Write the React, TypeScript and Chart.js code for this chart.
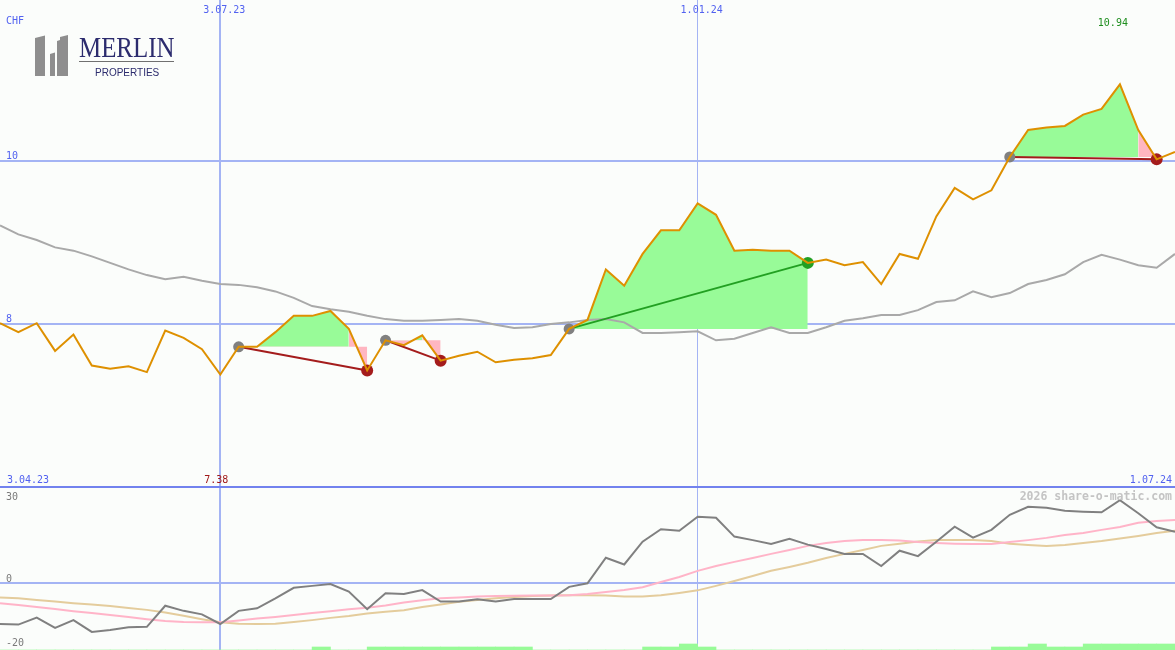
import React, { useEffect, useRef } from "react";
import { Chart, registerables } from "chart.js";

Chart.register(...registerables);

const W = 1175;
const H = 650;

// ---------- data ----------
const currencyLabel = "CHF";
const dateTickWeeks = [12, 38];
const dateTickLabels = ["3.07.23", "1.01.24"];
const rangeStartLabel = "3.04.23";
const rangeEndLabel = "1.07.24";
const priceGridValues = [8, 10];
const oscGridValues = [0, 30];
const oscLabelValues = [30, 0, -20];
const watermark = "2026 share-o-matic.com";

// weekly closing price (CHF), week 0 .. week 64
const price = [
  8.01, 7.9, 8.01, 7.67, 7.87, 7.49, 7.45, 7.48, 7.41, 7.92,
  7.83, 7.69, 7.38, 7.72, 7.72, 7.9, 8.1, 8.1, 8.16, 7.94,
  7.43, 7.8, 7.74, 7.86, 7.55, 7.61, 7.66, 7.53, 7.56, 7.58,
  7.62, 7.94, 8.05, 8.67, 8.47, 8.86, 9.15, 9.15, 9.48, 9.34,
  8.9, 8.91, 8.9, 8.9, 8.75, 8.79, 8.72, 8.76, 8.49, 8.86,
  8.8, 9.32, 9.67, 9.53, 9.64, 10.05, 10.38, 10.41, 10.43, 10.57,
  10.64, 10.94, 10.38, 10.02, 10.11,
];

// long moving average (grey line, price panel)
const movingAverage = [
  9.21, 9.1, 9.03, 8.94, 8.9, 8.83, 8.75, 8.67, 8.6, 8.55,
  8.58, 8.53, 8.49, 8.48, 8.45, 8.4, 8.32, 8.22, 8.18, 8.15,
  8.1, 8.06, 8.04, 8.04, 8.05, 8.06, 8.04, 7.99, 7.95, 7.96,
  8.0, 8.02, 8.05, 8.06, 8.02, 7.89, 7.89, 7.9, 7.91, 7.8,
  7.82, 7.89, 7.96, 7.89, 7.89, 7.96, 8.04, 8.07, 8.11, 8.11,
  8.17, 8.27, 8.29, 8.4, 8.33, 8.38, 8.49, 8.54, 8.61, 8.76,
  8.85, 8.79, 8.72, 8.69, 8.86,
];

// oscillator panel
const momentum = [
  -12.8, -13.0, -10.8, -14.0, -11.6, -15.3, -14.7, -13.8, -13.7, -7.1,
  -8.7, -9.8, -12.8, -8.7, -7.9, -4.8, -1.5, -0.9, -0.3, -2.7,
  -8.2, -3.2, -3.4, -2.2, -5.8, -5.8, -5.1, -5.8, -5.0, -5.0,
  -5.0, -1.2, -0.1, 7.9, 5.8, 12.9, 16.8, 16.3, 20.7, 20.4,
  14.5, 13.4, 12.2, 13.8, 12.0, 10.6, 9.1, 9.1, 5.3, 10.1,
  8.4, 12.9, 17.6, 14.2, 16.6, 21.3, 23.8, 23.5, 22.6, 22.3,
  22.1, 25.9, 21.8, 17.4, 16.0,
];
const momentumFast = [
  -6.3, -6.9, -7.5, -8.1, -8.8, -9.4, -10.0, -10.6, -11.3, -11.9,
  -12.2, -12.3, -12.3, -11.7, -11.1, -10.6, -10.0, -9.4, -8.8, -8.2,
  -7.7, -7.0, -6.1, -5.4, -4.8, -4.5, -4.2, -4.1, -4.0, -3.9,
  -3.9, -3.8, -3.4, -2.8, -2.2, -1.3, 0.3, 1.9, 3.8, 5.3,
  6.6, 7.8, 9.1, 10.3, 11.6, 12.5, 13.1, 13.4, 13.4, 13.3,
  12.8, 12.5, 12.3, 12.2, 12.2, 12.8, 13.4, 14.1, 15.0, 15.6,
  16.6, 17.5, 18.8, 19.4, 19.7,
];
const momentumSlow = [
  -4.5, -4.8, -5.3, -5.8, -6.3, -6.7, -7.2, -7.8, -8.4, -9.2,
  -10.2, -11.3, -12.3, -12.7, -12.8, -12.7, -12.2, -11.6, -10.9, -10.3,
  -9.5, -9.0, -8.5, -7.5, -6.7, -5.9, -5.3, -4.8, -4.4, -4.1,
  -3.9, -3.8, -3.8, -3.9, -4.2, -4.2, -3.8, -3.1, -2.3, -0.9,
  0.6, 2.2, 3.8, 5.0, 6.3, 7.8, 9.1, 10.3, 11.6, 12.3,
  13.0, 13.4, 13.4, 13.4, 13.1, 12.3, 11.9, 11.6, 11.9, 12.5,
  13.1, 13.9, 14.7, 15.6, 16.3,
];

// signal strength bars per week interval (0..63)
const signalBars = [
  0, 0, 0, 0, 0, 0, 0, 0, 0, 0,
  0, 0, 0, 0, 0, 0, 0, 1, 0, 0,
  1, 1, 1, 1, 1, 1, 1, 1, 1, 0,
  0, 0, 0, 0, 0, 1, 1, 2, 1, 0,
  0, 0, 0, 0, 0, 0, 0, 0, 0, 0,
  0, 0, 0, 0, 1, 1, 2, 1, 1, 2,
  2, 2, 2, 2,
];

// trades (week index of entry and exit)
const tradeEntryWeek = [13, 21, 31, 55];
const tradeExitWeek = [20, 24, 44, 63];

const lowWeek = 12;
const highWeek = 61;

// ---------- styles ----------
const BG = "#fbfdfb";
const GRID = "#a4b4f4";
const SEPARATOR = "#7282ee";
const BLUE_TEXT = "#5262f0";
const GREEN_FILL = "#98fb98";
const PINK_FILL = "#ffb6c1";
const ORANGE = "#de9000";
const MA_GREY = "#a9a9a9";
const MOM_GREY = "#808080";
const PINK_LINE = "#ffb4c8";
const TAN_LINE = "#e4cc9c";
const LOSS = "#a41c1c";
const WIN = "#22a022";
const ENTRY_DOT = "#808080";

const range = (a: number, b: number) => {
  const r: number[] = [];
  for (let i = a; i <= b; i++) r.push(i);
  return r;
};

function buildDatasets() {
  const ds: any[] = [];
  // trade fills
  tradeEntryWeek.forEach((e, t) => {
    const x = tradeExitWeek[t];
    const level = price[e];
    const win = price[x] > level;
    const parts: [number, number, string][] = win
      ? [[e, x, GREEN_FILL]]
      : [
          [e, x - 1, GREEN_FILL],
          [x - 1, x, PINK_FILL],
        ];
    parts.forEach(([a, b, aboveColor]) => {
      const levelIdx = ds.length;
      ds.push({
        type: "line",
        data: range(a, b).map((i) => ({ x: i, y: level })),
        borderWidth: 0,
        borderColor: "rgba(0,0,0,0)",
        pointRadius: 0,
        fill: false,
        order: 30,
        yAxisID: "y",
      });
      ds.push({
        type: "line",
        data: range(a, b).map((i) => ({ x: i, y: price[i] })),
        borderWidth: 0,
        borderColor: "rgba(0,0,0,0)",
        pointRadius: 0,
        fill: { target: levelIdx, above: aboveColor, below: PINK_FILL },
        order: 29,
        yAxisID: "y",
      });
    });
  });

  // moving average
  ds.push({
    type: "line",
    data: movingAverage.map((v, i) => ({ x: i, y: v })),
    borderColor: MA_GREY,
    borderWidth: 2,
    pointRadius: 0,
    fill: false,
    order: 20,
    yAxisID: "y",
  });

  // signal bars
  ds.push({
    type: "bar",
    data: signalBars.map((v, i) => ({ x: i + 0.5, y: v })),
    backgroundColor: GREEN_FILL,
    borderWidth: 0,
    barPercentage: 1,
    categoryPercentage: 1,
    order: 19,
    yAxisID: "yBars",
  });

  // oscillator lines
  ds.push({
    type: "line",
    data: momentumSlow.map((v, i) => ({ x: i, y: v })),
    borderColor: TAN_LINE,
    borderWidth: 2,
    pointRadius: 0,
    fill: false,
    order: 18,
    yAxisID: "y2",
  });
  ds.push({
    type: "line",
    data: momentumFast.map((v, i) => ({ x: i, y: v })),
    borderColor: PINK_LINE,
    borderWidth: 2,
    pointRadius: 0,
    fill: false,
    order: 17,
    yAxisID: "y2",
  });
  ds.push({
    type: "line",
    data: momentum.map((v, i) => ({ x: i, y: v })),
    borderColor: MOM_GREY,
    borderWidth: 2,
    pointRadius: 0,
    fill: false,
    order: 16,
    yAxisID: "y2",
  });

  // trade lines with entry / exit dots
  tradeEntryWeek.forEach((e, t) => {
    const x = tradeExitWeek[t];
    const win = price[x] > price[e];
    const c = win ? WIN : LOSS;
    ds.push({
      type: "line",
      data: [
        { x: e, y: price[e] },
        { x, y: price[x] },
      ],
      borderColor: c,
      borderWidth: 2,
      pointRadius: [5.5, 6],
      pointBackgroundColor: [ENTRY_DOT, c],
      pointBorderWidth: 0,
      fill: false,
      order: 6,
      yAxisID: "y",
    });
  });

  // price line
  ds.push({
    type: "line",
    data: price.map((v, i) => ({ x: i, y: v })),
    borderColor: ORANGE,
    borderWidth: 2,
    pointRadius: 0,
    fill: false,
    order: 2,
    yAxisID: "y",
  });
  return ds;
}

const bgPlugin = {
  id: "bgFill",
  beforeDraw(chart: any) {
    const c = chart.ctx;
    c.save();
    c.fillStyle = BG;
    c.fillRect(0, 0, chart.width, chart.height);
    c.restore();
  },
};

function drawLogo(c: CanvasRenderingContext2D) {
  c.save();
  c.fillStyle = "#8e8e8e";
  const poly = (pts: number[][]) => {
    c.beginPath();
    c.moveTo(pts[0][0], pts[0][1]);
    for (let i = 1; i < pts.length; i++) c.lineTo(pts[i][0], pts[i][1]);
    c.closePath();
    c.fill();
  };
  poly([[35, 38], [45, 35.5], [45, 76], [35, 76]]);
  poly([[50, 54], [55, 52.5], [55, 76], [50, 76]]);
  poly([[57, 41], [60, 40], [60, 37], [68, 35], [68, 76], [57, 76]]);
  c.fillStyle = "#2c2c6e";
  c.save();
  c.translate(79, 57);
  c.scale(0.83, 1);
  c.font = '30px "Liberation Serif", "DejaVu Serif", serif';
  c.textAlign = "left";
  c.textBaseline = "alphabetic";
  c.fillText("MERLIN", 0, 0);
  c.restore();
  c.fillStyle = "#707070";
  c.fillRect(79, 61, 95, 1);
  c.fillStyle = "#2c2c6e";
  c.font = '10px "Liberation Sans", Arial, sans-serif';
  c.textAlign = "left";
  c.fillText("PROPERTIES", 95, 75.5);
  c.restore();
}

const labelPlugin = {
  id: "labels",
  afterDraw(chart: any) {
    const c: CanvasRenderingContext2D = chart.ctx;
    const xs = chart.scales.x;
    const ys = chart.scales.y;
    const y2 = chart.scales.y2;
    c.save();
    c.textBaseline = "alphabetic";
    c.font = '10px "DejaVu Sans Mono", monospace';
    c.fillStyle = BLUE_TEXT;
    c.textAlign = "left";
    c.fillText(currencyLabel, 6, 24);
    priceGridValues.forEach((v) => {
      c.fillText(String(v), 6, ys.getPixelForValue(v) - 2);
    });
    c.textAlign = "center";
    dateTickWeeks.forEach((w, i) => {
      c.fillText(dateTickLabels[i], xs.getPixelForValue(w) + 4, 12.5);
    });
    const sepY = y2.getPixelForValue(oscGridValues[1]);
    c.textAlign = "left";
    c.fillText(rangeStartLabel, 7, sepY - 4);
    c.textAlign = "right";
    c.fillText(rangeEndLabel, W - 3, sepY - 4);
    // low / high
    c.fillStyle = "#a01818";
    c.fillText(price[lowWeek].toFixed(2), xs.getPixelForValue(lowWeek) + 8, sepY - 4);
    c.fillStyle = "#1e8e1e";
    c.fillText(price[highWeek].toFixed(2), xs.getPixelForValue(highWeek) + 8, 26);
    // oscillator labels
    c.fillStyle = "#7a7a7a";
    c.textAlign = "left";
    oscLabelValues.forEach((v) => {
      const py = y2.getPixelForValue(v);
      const yy = v === oscGridValues[1] ? py + 12.5 : py - 1.5;
      c.fillText(String(v), 6, yy);
    });
    // watermark
    c.fillStyle = "#c4c4c4";
    c.font = 'bold 11.5px "DejaVu Sans Mono", monospace';
    c.textAlign = "right";
    c.fillText(watermark, W - 3, sepY + 13);
    c.restore();
    drawLogo(c);
  },
};

export default function App() {
  const ref = useRef<HTMLCanvasElement>(null);
  useEffect(() => {
    document.body.style.margin = "0";
    const canvas = ref.current;
    if (!canvas) return;
    const pxPrice = 81.5;
    const yMax = 10 + 161 / pxPrice;
    const yMin = yMax - H / pxPrice;
    const pxOsc = 3.2;
    const y2Max = 583 / pxOsc;
    const y2Min = y2Max - H / pxOsc;
    const chart = new Chart(canvas, {
      type: "line",
      data: { datasets: buildDatasets() },
      plugins: [bgPlugin, labelPlugin],
      options: {
        responsive: false,
        animation: false,
        events: [],
        layout: { padding: 0, autoPadding: false },
        plugins: {
          legend: { display: false },
          tooltip: { enabled: false },
          title: { display: false },
        },
        elements: { line: { tension: 0 } },
        scales: {
          x: {
            type: "linear",
            min: 0,
            max: price.length - 1,
            offset: false,
            afterBuildTicks: (s: any) => {
              s.ticks = dateTickWeeks.map((v) => ({ value: v }));
            },
            ticks: { display: false },
            grid: {
              offset: false,
              color: GRID,
              lineWidth: (ctx: any) => (ctx.tick && ctx.tick.value === dateTickWeeks[0] ? 2 : 1),
              drawTicks: false,
            },
            border: { display: false },
          },
          y: {
            type: "linear",
            position: "left",
            min: yMin,
            max: yMax,
            afterBuildTicks: (s: any) => {
              s.ticks = priceGridValues.map((v) => ({ value: v }));
            },
            ticks: { display: false },
            grid: { color: GRID, lineWidth: 2, drawTicks: false },
            border: { display: false },
          },
          y2: {
            type: "linear",
            position: "left",
            min: y2Min,
            max: y2Max,
            afterBuildTicks: (s: any) => {
              s.ticks = oscGridValues.map((v) => ({ value: v }));
            },
            ticks: { display: false },
            grid: {
              color: (ctx: any) => (ctx.tick && ctx.tick.value === oscGridValues[1] ? SEPARATOR : GRID),
              lineWidth: 2,
              drawTicks: false,
            },
            border: { display: false },
          },
          yBars: {
            type: "linear",
            display: false,
            min: 0,
            max: H / 3,
          },
        },
      } as any,
    } as any);
    return () => chart.destroy();
  }, []);
  return (
    <div style={{ position: "absolute", left: 0, top: 0, width: W, height: H }}>
      <canvas ref={ref} width={W} height={H} style={{ display: "block", width: W, height: H }} />
    </div>
  );
}
